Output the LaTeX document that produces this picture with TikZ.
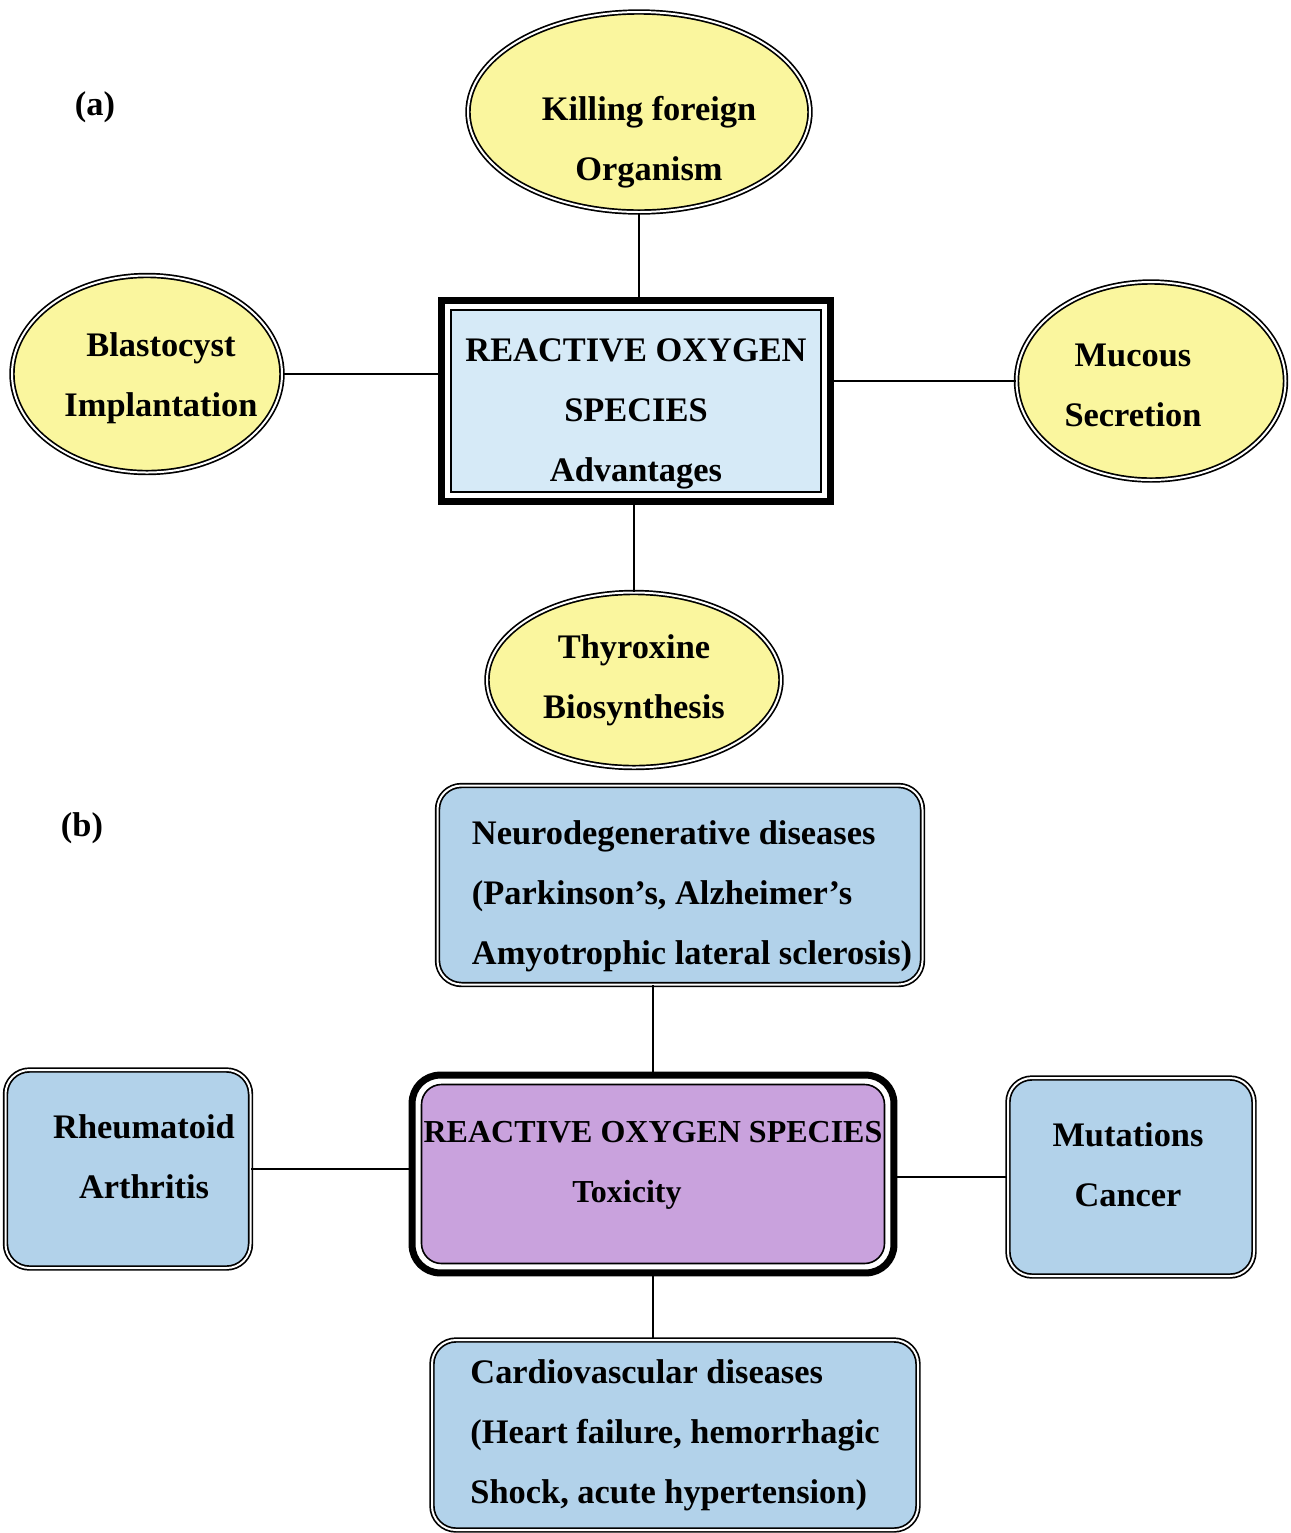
\documentclass[tikz,border=0pt]{standalone}
\usepackage{fontspec}
\setmainfont{Liberation Serif}
\usetikzlibrary{shapes.geometric}
\definecolor{roscream}{RGB}{250,246,158}
\definecolor{rospale}{RGB}{214,234,247}
\definecolor{rosblue}{RGB}{178,210,234}
\definecolor{rospurple}{RGB}{201,162,221}
\tikzset{
  benefit/.style={ellipse, draw, double, double distance=1pt, line width=0.85pt, fill=roscream, inner sep=0pt, align=center},
  disease/.style={rectangle, rounded corners=12pt, draw, double, double distance=1pt, line width=0.85pt, fill=rosblue, inner sep=0pt},
  hub/.style={rectangle, draw, line width=0.8pt, inner sep=0pt, align=center},
  hubrim/.style={line width=3.5pt},
  link/.style={line width=1pt},
}
\begin{document}
\begin{tikzpicture}[x=0.5pt, y=-0.5pt, font=\bfseries\fontsize{17.2}{30}\selectfont]
    \useasboundingbox (0,0) rectangle (1291,1533);

    % (a) Advantages
    \node (lbla) at (95,107) {(a)};
    \node (adv) [hub, fill=rospale, minimum width=185pt, minimum height=91pt, label={[align=center, yshift=-6.5pt]center:REACTIVE OXYGEN\\SPECIES\\Advantages}] at (636,401) {};
    \draw[hubrim] ([shift={(-4.3pt,4.3pt)}]adv.north west) rectangle ([shift={(4.3pt,-4.3pt)}]adv.south east);
    \node (kill) [benefit, minimum width=171pt, minimum height=100pt, label={[align=center, xshift=5pt, yshift=-15pt]center:Killing foreign\\Organism}] at (639,112) {};
    \node (blast) [benefit, minimum width=135pt, minimum height=98.5pt, label={[align=center, xshift=7pt, yshift=-2pt]center:Blastocyst\\Implantation}] at (147,374) {};
    \node (muc) [benefit, minimum width=134.5pt, minimum height=99pt, label={[align=center, xshift=-9pt, yshift=-2pt]center:Mucous\\Secretion}] at (1151,381) {};
    \node (thyro) [benefit, minimum width=147pt, minimum height=87.5pt] at (634,680) {Thyroxine\\Biosynthesis};

    \draw[link] (kill) -- ([yshift=4.3pt]kill |- adv.north);
    \draw[link] (blast) -- ([xshift=-4.3pt]blast -| adv.west);
    \draw[link] (muc) -- ([xshift=4.3pt]muc -| adv.east);
    \draw[link] (thyro) -- ([yshift=-4.3pt]thyro |- adv.south);

    % (b) Toxicity
    \node (lblb) at (82,828) {(b)};
    \node (tox) [hub, rounded corners=10pt, fill=rospurple, minimum width=231.5pt, minimum height=89.5pt, label={[align=center, yshift=4.5pt, font=\bfseries\fontsize{16}{30}\selectfont]center:REACTIVE OXYGEN SPECIES\\Toxicity\hspace*{26pt}}] at (653,1174) {};
    \draw[hubrim, rounded corners=14pt] ([shift={(-4.3pt,4.3pt)}]tox.north west) rectangle ([shift={(4.3pt,-4.3pt)}]tox.south east);
    \node (neuro) [disease, minimum width=242.5pt, minimum height=99.5pt, label={[align=left, xshift=6pt, yshift=-5.5pt]center:Neurodegenerative diseases\\(Parkinson’s, Alzheimer’s\\Amyotrophic lateral sclerosis)}] at (680,885) {};
    \node (rheum) [disease, minimum width=122.5pt, minimum height=99pt, label={[align=center, xshift=8pt, yshift=6pt]center:Rheumatoid\\Arthritis}] at (128,1169) {};
    \node (mut) [disease, minimum width=123pt, minimum height=99pt, label={[align=center, xshift=-1.5pt, yshift=6pt]center:Mutations\\Cancer}] at (1131,1177) {};
    \node (cardio) [disease, minimum width=243pt, minimum height=95pt, align=left] at (675,1435) {Cardiovascular diseases\\(Heart failure, hemorrhagic\\Shock, acute hypertension)};

    \draw[link] ([yshift=4.3pt]tox.north) -- (tox.north |- neuro.south);
    \draw[link] (rheum) -- ([xshift=-4.3pt]rheum -| tox.west);
    \draw[link] (mut) -- ([xshift=4.3pt]mut -| tox.east);
    \draw[link] ([yshift=-4.3pt]tox.south) -- (tox.south |- cardio.north);
\end{tikzpicture}
\end{document}
